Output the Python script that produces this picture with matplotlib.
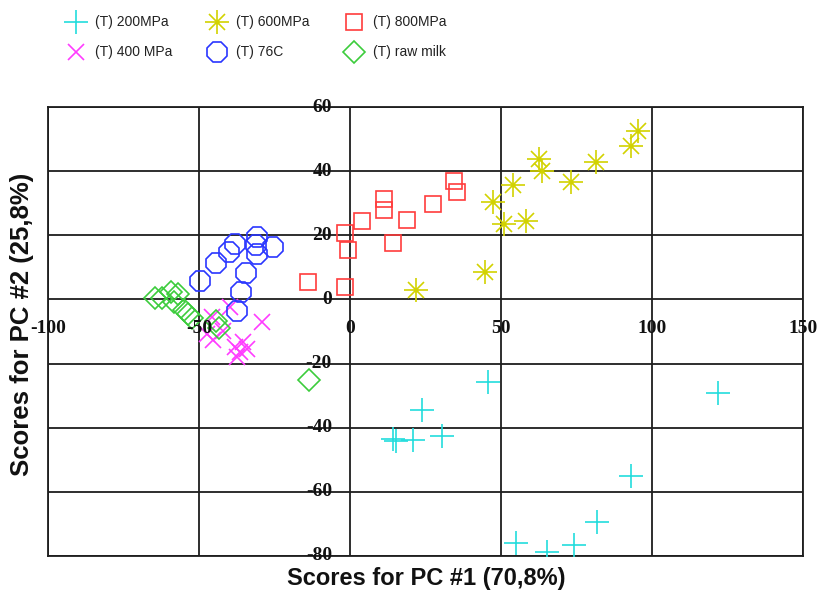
import matplotlib.pyplot as plt

# PCA scores (PC #1, PC #2) for each treatment
pc1_200 = [45.8, 23.8, 14.1, 15.2, 20.8, 30.5, 93.0, 81.8, 74.2, 65.1, 54.9, 121.9]
pc2_200 = [-25.8, -34.4, -43.5, -44.1, -43.9, -42.5, -55.0, -69.5, -76.7, -78.6, -75.8, -29.1]

pc1_400 = [-39.7, -29.2, -45.8, -47.5, -45.3, -41.9, -38.1, -36.4, -35.3, -37.5, -34.0]
pc2_400 = [-2.4, -7.1, -5.5, -10.7, -12.8, -9.7, -14.9, -16.5, -13.3, -18.0, -15.5]

pc1_600 = [95.5, 93.0, 81.4, 62.6, 63.5, 73.2, 53.9, 47.2, 50.9, 58.4, 44.7, 21.9]
pc2_600 = [52.6, 47.8, 42.9, 43.8, 40.1, 36.7, 35.7, 30.3, 23.5, 24.6, 8.6, 3.0]

pc1_76c = [-49.7, -44.5, -40.0, -38.1, -30.9, -31.1, -30.9, -25.4, -34.4, -36.1, -37.5]
pc2_76c = [5.9, 11.4, 14.7, 17.4, 19.5, 16.9, 14.3, 16.3, 8.3, 2.3, -3.6]

pc1_800 = [-13.8, -1.5, -1.5, -0.5, 4.0, 11.2, 11.2, 14.1, 18.8, 27.4, 34.5, 35.5]
pc2_800 = [5.4, 3.9, 20.7, 15.5, 24.5, 31.2, 27.8, 17.7, 24.7, 29.8, 36.8, 33.5]

pc1_raw = [-64.6, -62.3, -59.3, -57.0, -58.3, -55.0, -53.6, -52.3, -44.4, -43.4, -13.7]
pc2_raw = [0.3, 0.3, 2.2, 1.6, -0.9, -3.4, -4.4, -5.9, -6.6, -8.8, -25.2]

labels = ["(T) 200MPa", "(T) 400 MPa", "(T) 600MPa", "(T) 76C", "(T) 800MPa", "(T) raw milk"]
colors = ["#22DDDD", "#FF3CFF", "#D2D200", "#2A36FF", "#FF3C3C", "#3CCC3C"]

xticks = [-100, -50, 0, 50, 100, 150]
yticks = [-80, -60, -40, -20, 0, 20, 40, 60]

W, H = 820, 591


def draw_marker(ax, x, y, kind, color, **kw):
    """Draw one series with the marker style used for that treatment."""
    base = dict(linestyle="none", color=color, markerfacecolor="none",
                markeredgecolor=color, markeredgewidth=1.2, **kw)
    if kind == "plus":
        ax.plot(x, y, marker="+", markersize=17, **base)
    elif kind == "cross":
        ax.plot(x, y, marker="x", markersize=12, **base)
    elif kind == "star":
        ax.plot(x, y, marker="+", markersize=17, **base)
        ax.plot(x, y, marker="x", markersize=12, **base)
        ax.plot(x, y, marker="o", markersize=3, linestyle="none",
                color=color, markeredgewidth=0, **kw)
    elif kind == "oct":
        ax.plot(x, y, marker="8", markersize=16, **base)
    elif kind == "square":
        ax.plot(x, y, marker="s", markersize=12, **base)
    elif kind == "diamond":
        ax.plot(x, y, marker="D", markersize=11.5, **base)


kinds = ["plus", "cross", "star", "oct", "square", "diamond"]
series = [(pc1_200, pc2_200), (pc1_400, pc2_400), (pc1_600, pc2_600),
          (pc1_76c, pc2_76c), (pc1_800, pc2_800), (pc1_raw, pc2_raw)]

fig = plt.figure(figsize=(W / 100, H / 100), dpi=100)
ax = fig.add_axes([48 / W, 1 - 556 / H, (803 - 48) / W, (556 - 107) / H])

ax.set_xlim(-100, 150)
ax.set_ylim(-80, 60)
ax.set_xticks(xticks)
ax.set_yticks(yticks)
ax.tick_params(length=0, labelbottom=False, labelleft=False)
ax.grid(True, color="#1E1E1E", linewidth=1.3)
ax.set_axisbelow(True)
for sp in ax.spines.values():
    sp.set_color("#1E1E1E")
    sp.set_linewidth(1.3)

for (x, y), kind, color in zip(series, kinds, colors):
    draw_marker(ax, x, y, kind, color, zorder=3)

# tick labels sit on the axes that cross at the origin
tick_font = dict(family="Liberation Serif", weight="bold", size=14, color="#111111")
for v in xticks:
    ax.annotate(str(v), (v, 0), xytext=(0, -21), textcoords="offset points",
                ha="center", va="center", zorder=5, annotation_clip=False, **tick_font)
for v in yticks:
    ax.annotate(str(v), (0, v), xytext=(-13, 0), textcoords="offset points",
                ha="right", va="center", zorder=5, annotation_clip=False, **tick_font)

label_font = dict(family="Liberation Sans", weight="bold", color="#111111")
fig.text(426 / W, 1 - 578 / H, "Scores for PC #1 (70,8%)", ha="center", va="center",
         size=17, **label_font)
fig.text(22 / W, 1 - 324 / H, "Scores for PC #2 (25,8%)", ha="center", va="center",
         rotation=90, size=18.5, **label_font)

# legend laid out in three columns above the plot
leg = fig.add_axes([0, 0, 1, 1])
leg.set_xlim(0, W)
leg.set_ylim(H, 0)
leg.axis("off")
col_x = [76, 217, 354]
row_y = [22, 52]
for i, (label, kind, color) in enumerate(zip(labels, kinds, colors)):
    cx = col_x[i // 2]
    cy = row_y[i % 2]
    draw_marker(leg, [cx], [cy], kind, color)
    leg.text(cx + 19, cy, label, ha="left", va="center", size=10, color="#222222",
             family=["Liberation Sans Narrow", "Liberation Sans", "DejaVu Sans"])

fig.savefig("out.png", dpi=100)
